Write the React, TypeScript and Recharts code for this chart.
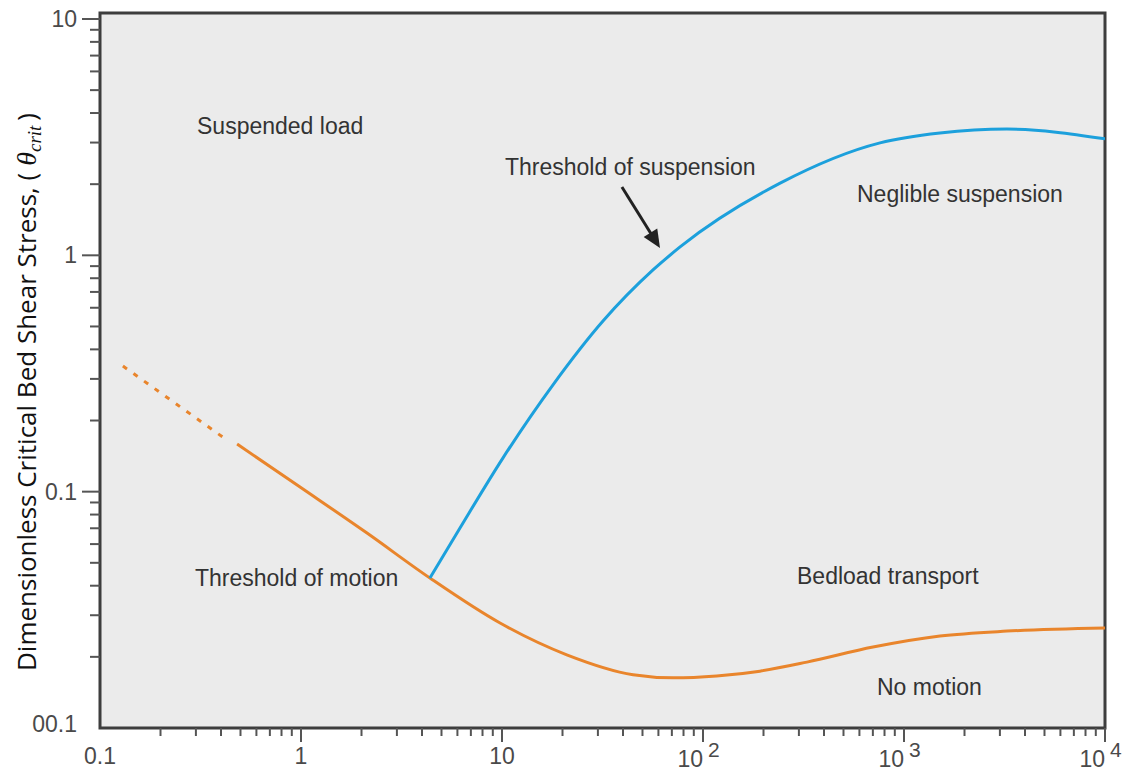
import {
  ComposedChart,
  Line,
  ReferenceArea,
  ReferenceLine,
  XAxis,
  YAxis,
} from "recharts";

// threshold of motion (extrapolated part, dashed)
const motionDashedX = [0.13, 0.409];
const motionDashedY = [0.34, 0.17];

// threshold of motion (solid)
const motionX = [0.481, 0.989, 2.13, 4.38, 9.78, 21.0, 44.9, 71.0, 117, 192, 329, 701, 1510, 3251, 10000];
const motionY = [0.159, 0.1046, 0.0668, 0.0431, 0.0278, 0.0204, 0.0168, 0.0163, 0.0166, 0.0174, 0.019, 0.022, 0.0245, 0.0257, 0.0265];

// threshold of suspension
const suspensionX = [4.38, 6.18, 10.1, 17.9, 31.8, 56.4, 76.9, 242, 760, 1510, 3251, 10000];
const suspensionY = [0.0431, 0.0702, 0.1387, 0.2825, 0.527, 0.867, 1.085, 2.02, 2.99, 3.29, 3.42, 3.11];

// arrow pointing at the suspension curve (tail, head)
const arrowX = [39.5, 61.1];
const arrowY = [1.945, 1.074];

const xMajorTicks = [0.1, 1, 10, 100, 1000, 10000];
const xTickBase = ["0.1", "1", "10", "10", "10", "10"];
const xTickExp = ["", "", "", "2", "3", "4"];

const yMajorTicks = [0.01, 0.1, 1, 10];
const yTickLabels = ["00.1", "0.1", "1", "10"];

const ORANGE = "#e9852c";
const BLUE = "#1ca0dc";
const TICK = "#555";
const LABEL = "#4a4a4a";
const SANS = "'Liberation Sans', Arial, sans-serif";
const W = 1126;
const H = 771;

const zip = (xs: number[], ys: number[]) => xs.map((x, i) => ({ x, y: ys[i] }));

function withMinors(majors: number[]) {
  const out: number[] = [];
  majors.forEach((m, i) => {
    out.push(m);
    if (i < majors.length - 1) for (let k = 2; k <= 9; k++) out.push(m * k);
  });
  return out;
}

const findMajor = (list: number[], v: number) => list.findIndex((t) => Math.abs(t - v) / t < 1e-6);

function XTick({ x, y, payload }: any) {
  const i = findMajor(xMajorTicks, payload.value);
  if (i < 0) return <line x1={x} x2={x} y1={y} y2={y + 8} stroke={TICK} strokeWidth={2} />;
  return (
    <g fontFamily={SANS} fontSize={23} fill={LABEL}>
      {i > 0 && <line x1={x} x2={x} y1={y} y2={y + 14} stroke={TICK} strokeWidth={2} />}
      {xTickExp[i] ? (
        <>
          <text x={x} y={y + 39} textAnchor="end">{xTickBase[i]}</text>
          <text x={x + 5} y={y + 29} fontSize={21}>{xTickExp[i]}</text>
        </>
      ) : (
        <text x={x} y={y + 36} textAnchor="middle">{xTickBase[i]}</text>
      )}
    </g>
  );
}

function YTick({ x, y, payload }: any) {
  const i = findMajor(yMajorTicks, payload.value);
  if (i < 0) return <line x1={x - 10} x2={x} y1={y} y2={y} stroke={TICK} strokeWidth={2} />;
  return (
    <g fontFamily={SANS} fontSize={23} fill={LABEL}>
      {i > 0 && <line x1={x - 18} x2={x} y1={y} y2={y} stroke={TICK} strokeWidth={2} />}
      <text x={x - 23} y={i === 0 ? y + 4 : y + 8} textAnchor="end">{yTickLabels[i]}</text>
    </g>
  );
}

function Arrow({ x1, y1, x2, y2 }: any) {
  const dx = x2 - x1;
  const dy = y2 - y1;
  const len = Math.hypot(dx, dy);
  const ux = dx / len;
  const uy = dy / len;
  const head = 18;
  const half = 8;
  const bx = x2 - ux * head;
  const by = y2 - uy * head;
  return (
    <g>
      <line x1={x1} y1={y1} x2={bx + ux * 2} y2={by + uy * 2} stroke="#222" strokeWidth={3} />
      <polygon
        points={`${x2},${y2} ${bx - uy * half},${by + ux * half} ${bx + uy * half},${by - ux * half}`}
        fill="#222"
      />
    </g>
  );
}

// region names and the y-axis title, drawn on top of the plot
function Annotations() {
  return (
    <svg
      width={W}
      height={H}
      style={{ position: "absolute", left: 0, top: 0, pointerEvents: "none" }}
    >
      <g fontFamily={SANS} fontSize={23} fill="#333">
        <text x={197} y={134}>Suspended load</text>
        <text x={505} y={175}>Threshold of suspension</text>
        <text x={857} y={202}>Neglible suspension</text>
        <text x={195} y={586}>Threshold of motion</text>
        <text x={797} y={584}>Bedload transport</text>
        <text x={877} y={695}>No motion</text>
      </g>
      <text
        transform="translate(36 392) rotate(-90)"
        textAnchor="middle"
        fontFamily="'Open Sans', sans-serif"
        fontSize={26}
        fill="#111"
      >
        Dimensionless Critical Bed Shear Stress, (
        <tspan fontFamily="'Liberation Serif', serif" fontStyle="italic" fontSize={28} dx={7}>θ</tspan>
        <tspan fontFamily="'Liberation Serif', serif" fontStyle="italic" fontSize={19} dy={5}>crit</tspan>
        <tspan dy={-5} dx={5}>)</tspan>
      </text>
    </svg>
  );
}

export default function App() {
  return (
    <div style={{ position: "absolute", left: 0, top: 0, width: W, height: H, background: "#fff" }}>
      <ComposedChart width={W} height={H} margin={{ top: 13, right: 21, bottom: 0, left: 0 }}>
        <XAxis
          dataKey="x"
          type="number"
          scale="log"
          domain={[0.1, 10000]}
          allowDataOverflow
          ticks={withMinors(xMajorTicks)}
          interval={0}
          tickSize={0}
          tickMargin={0}
          axisLine={false}
          tickLine={false}
          tick={<XTick />}
          height={43}
        />
        <YAxis
          dataKey="y"
          type="number"
          scale="log"
          domain={[0.01, 10.6]}
          allowDataOverflow
          ticks={withMinors(yMajorTicks)}
          interval={0}
          tickSize={0}
          tickMargin={0}
          axisLine={false}
          tickLine={false}
          tick={<YTick />}
          width={100}
        />
        <ReferenceArea
          x1={0.1}
          x2={10000}
          y1={0.01}
          y2={10.6}
          ifOverflow="visible"
          fill="#ebebeb"
          fillOpacity={1}
          stroke="#3d3d3d"
          strokeWidth={3}
        />
        <Line
          data={zip(motionDashedX, motionDashedY)}
          dataKey="y"
          type="linear"
          stroke={ORANGE}
          strokeWidth={3}
          strokeDasharray="5 8"
          dot={false}
          activeDot={false}
          isAnimationActive={false}
        />
        <Line
          data={zip(motionX, motionY)}
          dataKey="y"
          type="monotone"
          stroke={ORANGE}
          strokeWidth={3}
          dot={false}
          activeDot={false}
          isAnimationActive={false}
        />
        <Line
          data={zip(suspensionX, suspensionY)}
          dataKey="y"
          type="monotone"
          stroke={BLUE}
          strokeWidth={3}
          dot={false}
          activeDot={false}
          isAnimationActive={false}
        />
        <ReferenceLine
          segment={[
            { x: arrowX[0], y: arrowY[0] },
            { x: arrowX[1], y: arrowY[1] },
          ]}
          ifOverflow="visible"
          shape={<Arrow />}
        />
      </ComposedChart>
      <Annotations />
    </div>
  );
}
